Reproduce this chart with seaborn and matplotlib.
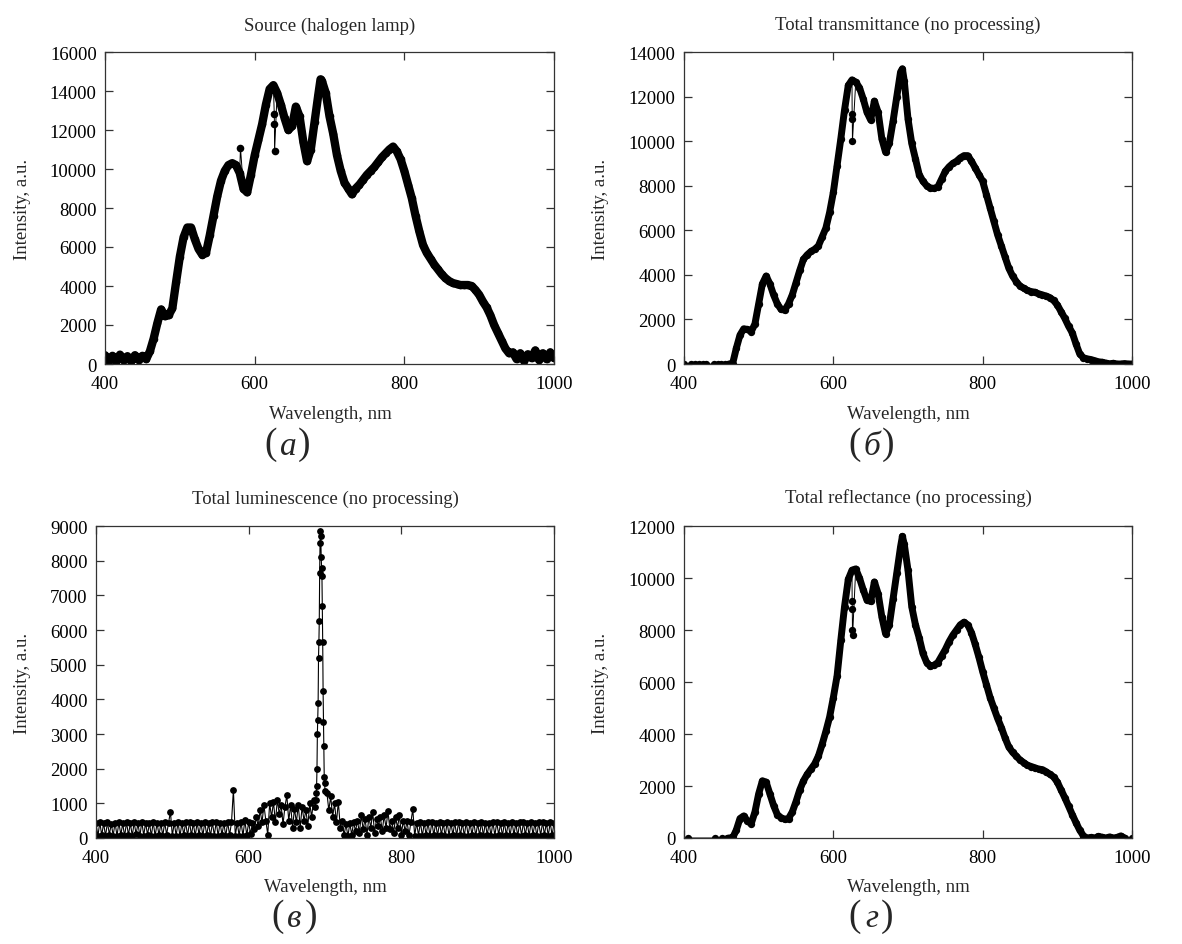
import numpy as np
import matplotlib
matplotlib.use("Agg")
import matplotlib.pyplot as plt
import seaborn as sns

# ---------------- data ----------------
# (a) Source (halogen lamp): 5 nm grid 400..1000
wl_a = np.arange(400, 1001, 5)
src_a = [450, 150, 420, 120, 480, 180, 400, 130, 450, 200,
         420, 250, 650, 1300, 2100, 2800, 2450, 2500, 2850, 4200,
         5500, 6500, 7000, 7000, 6400, 5900, 5600, 5700, 6600, 7600,
         8600, 9400, 9900, 10200, 10300, 10200, 9800, 9000, 8800, 9700,
         10700, 11500, 12300, 13300, 14100, 14300, 13900, 13300, 12600, 12000,
         12200, 13200, 12700, 11400, 10400, 11000, 12400, 13800, 14500, 13900,
         12700, 11800, 10700, 9900, 9300, 9000, 8700, 9000, 9200, 9450,
         9700, 9900, 10100, 10350, 10600, 10800, 11000, 11150, 10900, 10500,
         9900, 9200, 8500, 7600, 6800, 6100, 5700, 5400, 5100, 4850,
         4600, 4400, 4250, 4150, 4100, 4050, 4050, 4050, 4000, 3800,
         3550, 3200, 2900, 2500, 2000, 1600, 1200, 800, 550, 600,
         250, 550, 150, 500, 300, 700, 200, 550, 250, 600,
         300]
wl_a_peak = [688]
src_a_peak = [14600]
wl_a_spike = [581, 626.2, 626.4, 626.6]
src_a_spike = [11100, 12800, 12300, 10900]

# (б) Total transmittance
wl_b_lead = [400, 410, 415, 420, 425, 430, 440, 445, 450, 455]
tr_b_lead = [0, 0, 0, 0, 0, 0, 0, 0, 0, 0]
wl_b = np.arange(460, 1001, 5)
tr_b = [0, 0, 700, 1300, 1580, 1550, 1450, 1800, 2700, 3600,
        3950, 3600, 3100, 2700, 2450, 2420, 2700, 3100, 3650, 4200,
        4700, 4900, 5050, 5150, 5300, 5700, 6100, 6800, 7700, 8900,
        10100, 11400, 12500, 12750, 12650, 12400, 11900, 11300, 10950, 11800,
        11300, 10100, 9500, 9900, 10900, 12000, 13100, 12700, 11000, 9900,
        9200, 8500, 8200, 8000, 7900, 7880, 7950, 8300, 8650, 8850,
        9000, 9100, 9250, 9350, 9350, 9100, 8800, 8500, 8200, 7600,
        7000, 6400, 5800, 5300, 4800, 4300, 3950, 3700, 3500, 3400,
        3300, 3250, 3220, 3150, 3100, 3050, 2980, 2850, 2650, 2350,
        2050, 1700, 1400, 900, 450, 280, 230, 200, 150, 100,
        80, 40, 10, 30, 0, 0, 20, 0, 0]
wl_b_peak = [692.5]
tr_b_peak = [13250]
wl_b_spike = [625.2, 625.4, 625.6]
tr_b_spike = [11200, 11000, 10000]

# (в) Total luminescence
wl_c1 = np.arange(400, 688, 2.5)
lum_c1 = [420, 60, 450, 80, 430, 50, 460, 100,
          410, 70, 440, 60, 450, 90, 420, 50,
          460, 80, 430, 60, 450, 110, 420, 50,
          470, 70, 440, 90, 430, 60, 460, 50,
          440, 80, 420, 60, 450, 100, 430, 760,
          60, 440, 70, 460, 50, 430, 90, 450,
          60, 470, 80, 430, 50, 450, 100, 440,
          60, 460, 80, 420, 50, 450, 70, 470,
          60, 440, 90, 430, 50, 460, 80, 450,
          1385, 60, 440, 70, 460, 60, 510, 80,
          450, 120, 430, 250, 600, 350, 800, 450,
          950, 500, 100, 1000, 600, 1050, 450, 1100,
          700, 950, 400, 900, 1230, 500, 950, 300,
          850, 450, 950, 300, 900, 500, 800, 350,
          1000, 600, 1100, 900]
wl_c2 = np.arange(688, 700.25, 0.5)
lum_c2 = [1100, 1300, 1500, 2000, 3000, 3400, 3900, 5200, 5650, 6250,
          7650, 8500, 8850, 8700, 8100, 7800, 7550, 6700, 5650, 4250,
          3350, 2650, 1750, 1600, 1350]
wl_c3 = np.arange(702.5, 1000.1, 2.5)
lum_c3 = [1300, 800, 1200, 600, 1000, 450, 1050, 300,
          500, 80, 400, 50, 420, 100, 450, 200,
          500, 150, 650, 250, 550, 100, 600, 300,
          740, 150, 550, 350, 600, 200, 650, 300,
          770, 250, 500, 150, 600, 300, 650, 100,
          500, 200, 480, 80, 450, 830, 60, 440,
          70, 460, 50, 430, 90, 450, 60, 470,
          80, 440, 60, 450, 100, 420, 50, 460,
          70, 430, 90, 450, 60, 470, 80, 440,
          50, 460, 70, 430, 100, 450, 60, 420,
          80, 470, 50, 440, 90, 430, 60, 460,
          70, 450, 100, 420, 50, 460, 80, 440,
          60, 470, 90, 430, 50, 450, 70, 460,
          80, 440, 60, 470, 100, 430, 50, 450,
          70, 460, 90, 440, 60, 450, 80, 430]

# (г) Total reflectance
wl_d_lead = [406, 441, 451, 457]
rf_d_lead = [0, 0, 0, 0]
wl_d = np.arange(460, 991, 5)
rf_d = [0, 0, 300, 750, 850, 650, 550, 1000, 1700, 2200,
        2150, 1700, 1250, 900, 780, 720, 750, 1000, 1400, 1850,
        2200, 2450, 2650, 2850, 3150, 3600, 4100, 4650, 5400, 6230,
        7600, 8900, 9950, 10300, 10350, 10000, 9550, 9150, 9100, 9850,
        9400, 8500, 7850, 8200, 9200, 10200, 11200, 11300, 10300, 8900,
        8200, 7700, 7100, 6750, 6600, 6650, 6750, 7000, 7250, 7550,
        7800, 8000, 8200, 8300, 8200, 7900, 7450, 6950, 6400, 5900,
        5400, 5000, 4600, 4250, 3850, 3500, 3300, 3150, 3000, 2900,
        2800, 2750, 2700, 2650, 2630, 2550, 2450, 2350, 2150, 1850,
        1550, 1230, 900, 590, 300, 80, 0, 20, 0, 60,
        30, 0, 40, 0, 20, 80, 0]
wl_d_peak = [692.5]
rf_d_peak = [11600]
wl_d_spike = [625.2, 625.4, 625.6, 625.8, 1000]
rf_d_spike = [9100, 8800, 8000, 7800, 0]

titles = ["Source (halogen lamp)", "Total transmittance (no processing)",
          "Total luminescence (no processing)", "Total reflectance (no processing)"]
panel_letters = ["а", "б", "в", "г"]
ymax = [16000, 14000, 9000, 12000]
ystep = [2000, 2000, 1000, 2000]
xlabel = "Wavelength, nm"
ylabel = "Intensity, a.u."

# ---------------- style ----------------
sns.set_theme(style="ticks")
plt.rcParams['font.family'] = ['Liberation Serif', 'DejaVu Serif']
plt.rcParams['axes.edgecolor'] = '#333333'
plt.rcParams['axes.linewidth'] = 0.9

W, H = 1182, 945
fig = plt.figure(figsize=(W / 100, H / 100), dpi=100)
fig.patch.set_facecolor('white')


def px(x, y):
    return x / W, 1 - y / H


# axes boxes in pixels: left, top, right, bottom
boxes = [(105, 53, 554, 365), (684, 53, 1132, 365),
         (96, 527, 554, 839), (684, 527, 1132, 839)]
title_pos = [(329.5, 26), (908, 25), (325, 499), (908, 498)]
xlab_pos = [(330, 415), (908, 415), (325, 888), (908, 888)]
ylab_pos = [(22.5, 209), (601, 209), (22.6, 683), (601, 683)]
tag_pos = [(287, 445), (871, 445), (293.6, 917), (870.5, 917)]

TXT = 13.5


def merge(parts):
    x = np.concatenate([np.asarray(p[0], float) for p in parts])
    y = np.concatenate([np.asarray(p[1], float) for p in parts])
    o = np.argsort(x, kind='stable')
    return x[o], y[o]


def draw(ax, band_parts, spike_parts, band_lw, msize, thin_lw):
    if band_lw:
        bx, by = merge(band_parts)
        sns.lineplot(x=bx, y=by, ax=ax, color='black', linewidth=band_lw,
                     estimator=None, sort=False,
                     solid_capstyle='round', solid_joinstyle='round')
    ax_x, ax_y = merge(band_parts + spike_parts)
    sns.lineplot(x=ax_x, y=ax_y, ax=ax, color='black', linewidth=thin_lw,
                 estimator=None, sort=False)
    sns.scatterplot(x=ax_x, y=ax_y, ax=ax, color='black', s=msize,
                    linewidth=0, zorder=3)


series = [
    ([(wl_a, src_a), (wl_a_peak, src_a_peak)], [(wl_a_spike, src_a_spike)], 6.0, 30, 0.7),
    ([(wl_b, tr_b), (wl_b_peak, tr_b_peak)],
     [(wl_b_lead, tr_b_lead), (wl_b_spike, tr_b_spike)], 5.0, 28, 0.7),
    ([(wl_c1, lum_c1), (wl_c2, lum_c2), (wl_c3, lum_c3)], [], 0, 24, 0.8),
    ([(wl_d, rf_d), (wl_d_peak, rf_d_peak)],
     [(wl_d_lead, rf_d_lead), (wl_d_spike, rf_d_spike)], 5.0, 28, 0.7),
]

for i in range(4):
    l, t, r, b = boxes[i]
    ax = fig.add_axes([l / W, 1 - b / H, (r - l) / W, (b - t) / H])
    band_parts, spike_parts, blw, ms, tlw = series[i]
    draw(ax, band_parts, spike_parts, blw, ms, tlw)
    ax.set_xlim(400, 1000)
    ax.set_ylim(0, ymax[i])
    ax.set_xticks([400, 600, 800, 1000])
    ax.set_yticks(np.arange(0, ymax[i] + 1, ystep[i]))
    ax.set_xlabel("")
    ax.set_ylabel("")
    for s in ax.spines.values():
        s.set_visible(True)
        s.set_color('#333333')
        s.set_linewidth(0.9)
        s.set_zorder(5)
    ax.tick_params(axis='both', direction='in', length=5.5, width=0.9,
                   color='#333333', labelcolor='black', labelsize=TXT,
                   top=True, right=True)
    ax.tick_params(axis='x', pad=8)
    ax.tick_params(axis='y', pad=6)
    ax.set_facecolor('white')

    fig.text(*px(*title_pos[i]), titles[i], ha='center', va='center', fontsize=TXT)
    fig.text(*px(*xlab_pos[i]), xlabel, ha='center', va='center', fontsize=TXT)
    fig.text(*px(*ylab_pos[i]), ylabel, ha='center', va='center', fontsize=TXT,
             rotation=90)
    cx, cy = tag_pos[i]
    fig.text(*px(cx - 16, cy), "(", ha='center', va='center', fontsize=27)
    fig.text(*px(cx + 1, cy + 2), panel_letters[i], ha='center', va='center',
             fontsize=24, style='italic')
    fig.text(*px(cx + 17, cy), ")", ha='center', va='center', fontsize=27)

fig.savefig("out.png", dpi=100, facecolor='white')
